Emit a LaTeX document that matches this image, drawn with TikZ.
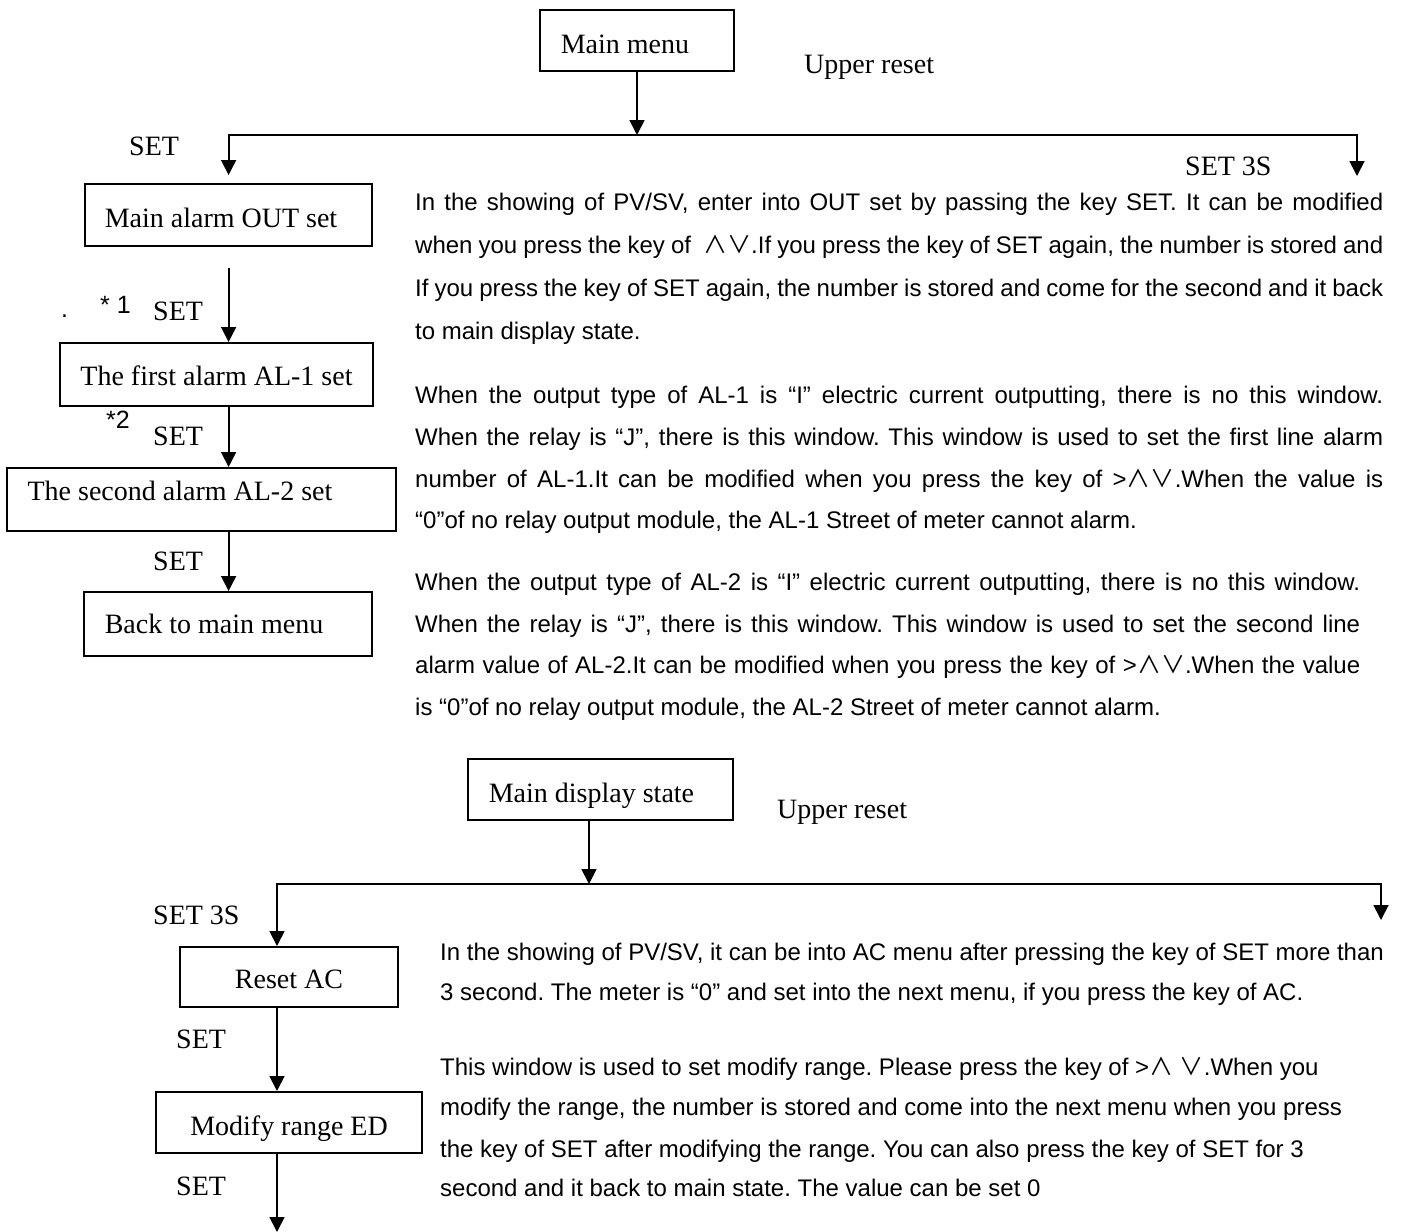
\documentclass[tikz,border=0pt]{standalone}
\usepackage{fontspec}
\setmainfont{Liberation Serif}
\newfontfamily\sansf{Liberation Sans}
\newfontfamily\cjk{Noto Sans CJK SC}
\usetikzlibrary{arrows.meta}
\frenchspacing
\newcommand\serfont{\fontsize{28}{33}\selectfont}
\newcommand\txtfont{\sansf\fontsize{24}{29}\selectfont}
\newcommand\starfont{\sansf\fontsize{25}{30}\selectfont}
\newcommand\bt[3]{\hspace*{#1}\raisebox{#2}{#3}}
\newcommand\justline[2]{\makebox[#1][s]{#2}}
\tikzset{
  box/.style={draw, line width=2pt, inner sep=0pt, text height=18pt, text depth=0pt, font=\serfont},
  lab/.style={anchor=base west, inner sep=0pt, font=\serfont},
  star/.style={anchor=base west, inner sep=0pt, font=\starfont},
  para/.style={anchor=base west, inner sep=0pt, font=\txtfont},
  arr/.style={line width=1.8pt, -{Triangle[length=15pt,width=15pt]}},
  arrboth/.style={line width=1.8pt, {Triangle[length=15pt,width=15pt]}-{Triangle[length=15pt,width=15pt]}},
}
\begin{document}
\frenchspacing
\begin{tikzpicture}[x=1pt,y=-1pt]
\useasboundingbox[fill=white] (0,0) rectangle (1401,1232);

% ---------- top flow ----------
\node[box, minimum width=194pt, minimum height=61pt] (mm) at (637,40.5) {\bt{-24pt}{-3.5pt}{Main menu}};
\node[box, minimum width=287pt, minimum height=62pt] (out) at (228.5,215) {\bt{-15pt}{-3pt}{Main alarm OUT set}};
\node[box, minimum width=313pt, minimum height=63pt] (al1) at (216.5,374.5) {\bt{0pt}{-1.5pt}{The first alarm AL-1 set}};
\node[box, minimum width=389pt, minimum height=63pt] (al2) at (201.5,499.5) {\bt{-43pt}{8.5pt}{The second alarm AL-2 set}};
\node[box, minimum width=288pt, minimum height=64pt] (back) at (228,624) {\bt{-28pt}{0pt}{Back to main menu}};

\coordinate (xl) at (228.6,0);
\coordinate (jt) at (637,135);
\coordinate (xr) at (1357,135);
\coordinate (tr) at (1357,176);

\draw[arr] (mm.south) -- (jt);
\draw[arrboth] ([yshift=8pt]out.north -| xl) |- (xr) -- (tr);
\draw[arr] ([yshift=-21pt]out.south -| xl) -- (al1.north -| xl);
\draw[arr] (al1.south -| xl) -- (al2.north -| xl);
\draw[arr] (al2.south -| xl) -- (back.north -| xl);

\node[lab] (up1) at (804,73) {Upper reset};
\node[lab] (set0) at (129,155) {SET};
\node[lab] (set3s) at (1185,175) {SET 3S};
\node[star] (dot) at (61,317) {.};
\node[star] (st1) at (100,313) {* 1};
\node[lab] (set1) at (153,320) {SET};
\node[star] (st2) at (106,428) {*2};
\node[lab] (set2) at (153,445) {SET};
\node[lab] (set3) at (153,570) {SET};

% ---------- top texts ----------
\node[para] (p1a) at (415,210) {\justline{968pt}{In the showing of PV/SV, enter into OUT set by passing the key SET. It can be modified}};
\node[para] (p1b) at (415,253) {\justline{968pt}{when you press the key of~~{\cjk ∧∨}.If you press the key of SET again, the number is stored and}};
\node[para] (p1c) at (415,296) {\justline{968pt}{If you press the key of SET again, the number is stored and come for the second and it back}};
\node[para] (p1d) at (415,339) {to main display state.};

\node[para] (p2a) at (415,403) {\justline{968pt}{When the output type of AL-1 is “I” electric current outputting, there is no this window.}};
\node[para] (p2b) at (415,445) {\justline{968pt}{When the relay is “J”, there is this window. This window is used to set the first line alarm}};
\node[para] (p2c) at (415,487) {\justline{968pt}{number of AL-1.It can be modified when you press the key of >{\cjk ∧∨}.When the value is}};
\node[para] (p2d) at (415,528) {“0”of no relay output module, the AL-1 Street of meter cannot alarm.};

\node[para] (p3a) at (415,590) {\justline{945pt}{When the output type of AL-2 is “I” electric current outputting, there is no this window.}};
\node[para] (p3b) at (415,632) {\justline{945pt}{When the relay is “J”, there is this window. This window is used to set the second line}};
\node[para] (p3c) at (415,673) {\justline{945pt}{alarm value of AL-2.It can be modified when you press the key of >{\cjk ∧∨}.When the value}};
\node[para] (p3d) at (415,715) {is “0”of no relay output module, the AL-2 Street of meter cannot alarm.};

% ---------- bottom flow ----------
\node[box, minimum width=265pt, minimum height=61pt] (mds) at (600.5,789.5) {\bt{-18pt}{-3.5pt}{Main display state}};
\node[box, minimum width=218pt, minimum height=60pt] (rac) at (289,977) {\bt{0pt}{-2pt}{Reset AC}};
\node[box, minimum width=266pt, minimum height=61pt] (mod) at (289,1122.5) {\bt{0pt}{-3.5pt}{Modify range ED}};

\coordinate (xb) at (277,0);
\coordinate (jb) at (589,884);
\coordinate (br) at (1381,884);
\coordinate (brt) at (1381,920);
\coordinate (bend) at (277,1232);

\draw[arr] (mds.south -| jb) -- (jb);
\draw[arrboth] (rac.north -| xb) |- (br) -- (brt);
\draw[arr] (rac.south -| xb) -- (mod.north -| xb);
\draw[arr] (mod.south -| xb) -- (bend);

\node[lab] (up2) at (777,818) {Upper reset};
\node[lab] (set3sb) at (153,924) {SET 3S};
\node[lab] (set5) at (176,1048) {SET};
\node[lab] (set6) at (176,1195) {SET};

% ---------- bottom texts ----------
\node[para] (b1a) at (440,960) {In the showing of PV/SV, it can be into AC menu after pressing the key of SET more than};
\node[para] (b1b) at (440,1000) {3 second. The meter is “0” and set into the next menu, if you press the key of AC.};
\node[para] (b2a) at (440,1075) {This window is used to set modify range. Please press the key of >{\cjk ∧}~{\cjk ∨}.When you};
\node[para] (b2b) at (440,1115) {modify the range, the number is stored and come into the next menu when you press};
\node[para] (b2c) at (440,1157) {the key of SET after modifying the range. You can also press the key of SET for 3};
\node[para] (b2d) at (440,1196) {second and it back to main state. The value can be set 0};
\end{tikzpicture}
\end{document}
